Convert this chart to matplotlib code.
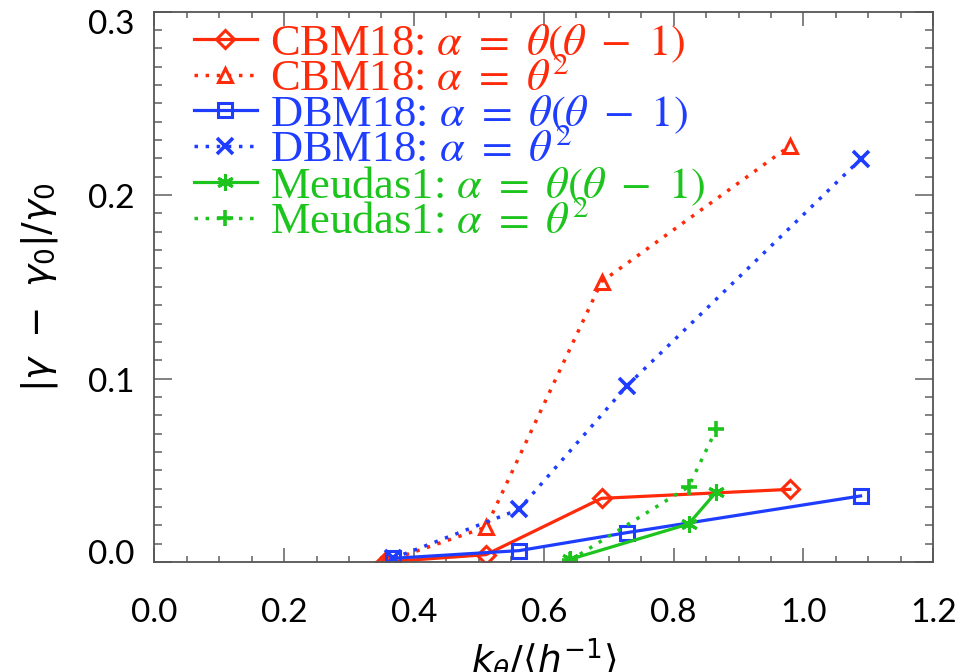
import matplotlib.pyplot as plt
import matplotlib.transforms as mtransforms
from matplotlib.ticker import MultipleLocator

# k_theta / <h^-1>  and  |gamma - gamma0| / gamma0
cbm_x = [0.355, 0.511, 0.689, 0.979]
cbm_y1 = [0.0, 0.004, 0.0347, 0.0396]     # alpha = theta(theta-1)
cbm_y2 = [0.0, 0.019, 0.1528, 0.2268]     # alpha = theta^2
dbm_x = [0.368, 0.562, 0.728, 1.088]
dbm_y1 = [0.002, 0.0062, 0.016, 0.036]
dbm_y2 = [0.002, 0.0287, 0.096, 0.2196]
meu_x = [0.641, 0.823, 0.866]
meu_y1 = [0.0015, 0.0207, 0.0383]
meu_y2 = [0.001, 0.041, 0.0725]

red = '#ff2a0a'
blue = '#1f3dff'
green = '#1ec41e'

fig = plt.figure(figsize=(9.79, 6.72), dpi=100)
ax = fig.add_axes([0.1576, 0.1637, 0.7957, 0.8189])

dot = (0, (1, 2.2))
mk = dict(markersize=10, markeredgewidth=2.2, markerfacecolor='none')
ax.plot(cbm_x, cbm_y1, color=red, lw=2.3, marker='D', markersize=9, markeredgewidth=2.2,
        markerfacecolor='none', label=r'CBM18: $\alpha\ =\ \theta(\theta\ -\ 1)$')
ax.plot(cbm_x, cbm_y2, color=red, lw=2.5, ls=dot, marker='^', label=r'CBM18: $\alpha\ =\ \theta^2$', **mk)
ax.plot(dbm_x, dbm_y1, color=blue, lw=2.3, marker='s', label=r'DBM18: $\alpha\ =\ \theta(\theta\ -\ 1)$', **mk)
ax.plot(dbm_x, dbm_y2, color=blue, lw=2.5, ls=dot, marker='x', markersize=11, markeredgewidth=2.6,
        label=r'DBM18: $\alpha\ =\ \theta^2$')
ax.plot(meu_x, meu_y1, color=green, lw=2.3, marker=(6, 2, 0), markersize=12, markeredgewidth=2.2,
        label=r'Meudas1: $\alpha\ =\ \theta(\theta\ -\ 1)$')
ax.plot(meu_x, meu_y2, color=green, lw=2.5, ls=dot, marker='+', markersize=12, markeredgewidth=2.6,
        label=r'Meudas1: $\alpha\ =\ \theta^2$')

ax.set_xlim(0, 1.2)
ax.set_ylim(0, 0.3)
ax.xaxis.set_major_locator(MultipleLocator(0.2))
ax.xaxis.set_minor_locator(MultipleLocator(0.05))
ax.yaxis.set_major_locator(MultipleLocator(0.1))
ax.yaxis.set_minor_locator(MultipleLocator(0.01))
ax.xaxis.set_major_formatter('{x:.1f}')
ax.yaxis.set_major_formatter('{x:.1f}')

for s in ax.spines.values():
    s.set_color('#555555')
    s.set_linewidth(1.3)
ax.tick_params(which='both', direction='in', top=True, right=True, color='#777777', width=1.3,
               labelcolor='black')
ax.tick_params(axis='x', which='major', length=10, pad=26, labelsize=24)
ax.tick_params(axis='x', which='minor', length=4.5)
ax.tick_params(axis='y', which='major', length=13, pad=14, labelsize=24)
ax.tick_params(axis='y', which='minor', length=6)
for lab in ax.get_xticklabels() + ax.get_yticklabels():
    lab.set_family(['Lato', 'DejaVu Sans'])

# IDL keeps the end labels inside the axis range
yshift = {0.0: 10, 0.3: -10}
for loc, tick in zip(ax.yaxis.get_majorticklocs(), ax.yaxis.get_major_ticks()):
    dy = yshift.get(round(loc, 2), -1)
    off = mtransforms.ScaledTranslation(0, dy / 100, fig.dpi_scale_trans)
    tick.label1.set_transform(tick.label1.get_transform() + off)

ax.set_xlabel(r'$k_\theta/\langle h^{-1}\rangle$', fontsize=27, labelpad=6,
              math_fontfamily='dejavusans')
ax.set_ylabel(r'$|\gamma\ -\ \gamma_0|/\gamma_0$', fontsize=27, labelpad=20,
              math_fontfamily='dejavusans')

leg = ax.legend(loc='upper left', bbox_to_anchor=(0.04, 0.997), frameon=False,
                prop={'family': 'Liberation Serif', 'size': 32}, handlelength=1.4,
                handletextpad=0.3, labelspacing=-0.14, borderaxespad=0, borderpad=0.2)
for txt, line in zip(leg.get_texts(), leg.get_lines()):
    txt.set_color(line.get_color())
    txt.set_math_fontfamily('stix')

fig.savefig('out.png', dpi=100)
